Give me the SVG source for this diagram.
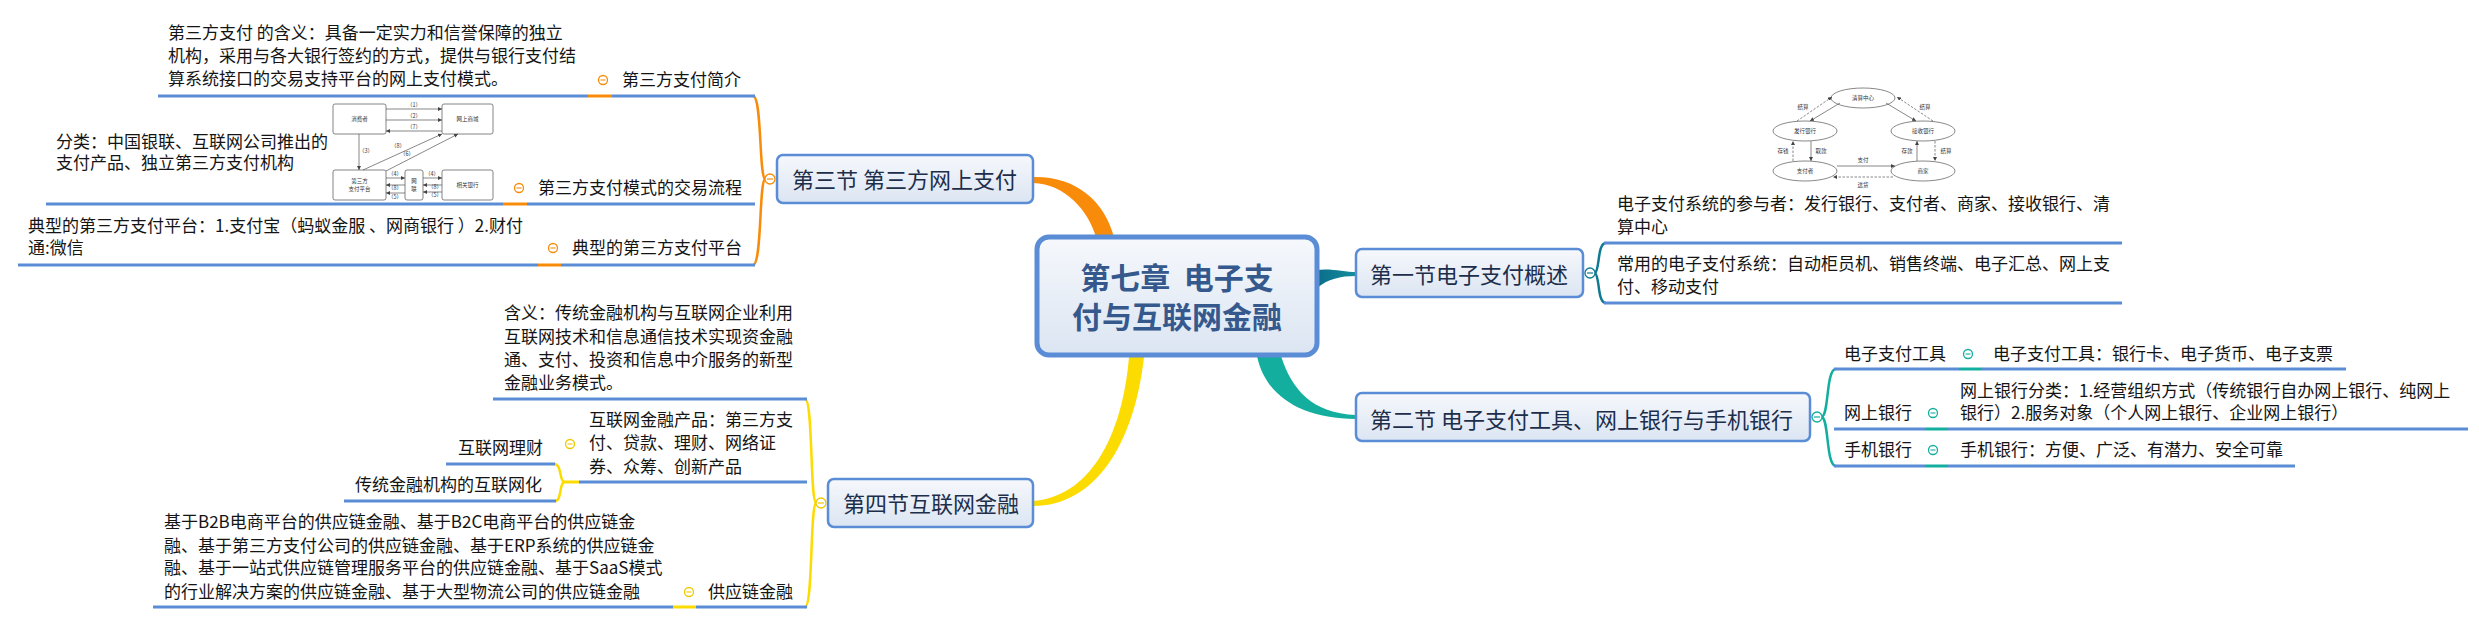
<svg xmlns="http://www.w3.org/2000/svg" width="2479" height="624" viewBox="0 0 2479 624">
<style>
.f{font-family:"Noto Sans CJK SC","Liberation Sans",sans-serif}
.t17{font-family:"Noto Sans CJK SC","Liberation Sans",sans-serif;font-size:17px;fill:#141414}
.ttl{font-family:"Noto Sans CJK SC","Liberation Sans",sans-serif;font-size:22px;fill:#1d2e4b}
.box{fill:url(#gb);stroke:#5b8dd6;stroke-width:2.5}
.ul{stroke:#5b8dd6;stroke-width:3;fill:none}
.br{fill:none;stroke-width:2.5}
.tiny{font-family:"Noto Sans CJK SC",sans-serif;font-size:5.5px;fill:#333;text-anchor:middle}
.ln{stroke:#555;stroke-width:0.7;fill:none}
.dl{stroke:#555;stroke-width:0.7;fill:none;stroke-dasharray:2.5 1.5}
.sh{fill:#fff;stroke:#666;stroke-width:0.8}
.tg{fill:#fff;stroke-width:1.3}
</style>
<defs>
<linearGradient id="gb" x1="0" y1="0" x2="0" y2="1"><stop offset="0" stop-color="#f6f8fc"/><stop offset="1" stop-color="#dbe5f2"/></linearGradient>
<linearGradient id="gt" x1="0" y1="0" x2="1" y2="0"><stop offset="0" stop-color="#0b6d8a"/><stop offset="1" stop-color="#148f9e"/></linearGradient>
<marker id="ah" markerWidth="4" markerHeight="4" refX="4" refY="2" orient="auto" markerUnits="userSpaceOnUse"><path d="M0,0 L4,2 L0,4 z" fill="#444"/></marker>
</defs>

<g id="connectors">
  <!-- main branches -->
  <path d="M1033,177 C1075,176 1104,200 1114,237 L1096,237 C1088,210 1065,184 1033,183 Z" fill="#f88c0a"/>
  <path d="M1129,357 C1122,440 1088,497 1033,501 L1033,506 C1095,506 1134,445 1144,357 Z" fill="#fcdb00"/>
  <path d="M1317,270 C1330,268 1345,272 1356,272 L1356,276 C1340,276 1328,279 1317,288 Z" fill="url(#gt)"/>
  <path d="M1257,356 C1265,395 1300,419 1356,419 L1356,415 C1312,413 1292,390 1281,356 Z" fill="#13ae9e"/>

  <!-- section 3 brackets and underlines -->
  <path class="br" stroke="#f88c0a" d="M753,96 C762,96 759,176 765,179 C759,182 762,265 753,265"/>
  <path class="ul" d="M158,96 H588 M612,96 H755"/>
  <path d="M588,96 H612" stroke="#f88c0a" stroke-width="3"/>
  <path class="ul" d="M46,204 H503 M527,204 H755"/>
  <path d="M503,204 H527" stroke="#f88c0a" stroke-width="3"/>
  <path class="ul" d="M18,265 H538 M561,265 H755"/>
  <path d="M538,265 H561" stroke="#f88c0a" stroke-width="3"/>

  <!-- section 4 -->
  <path class="br" stroke="#fcdb00" d="M805,399 C813,399 810,500 816,503 C810,506 813,607 805,607"/>
  <path class="br" stroke="#fcdb00" d="M554,464 C562,464 559,480 564,482 C559,484 562,501 555,501"/>
  <path class="ul" d="M493,399 H807"/>
  <path class="ul" d="M446,464 H555"/>
  <path class="ul" d="M344,501 H556"/>
  <path class="ul" d="M579,482 H807"/>
  <path d="M564,482 H579" stroke="#fcdb00" stroke-width="3"/>
  <path class="ul" d="M153,607 H673 M696,607 H807"/>
  <path d="M673,607 H696" stroke="#fcdb00" stroke-width="3"/>

  <!-- section 1 -->
  <path class="br" stroke="#0f7a92" d="M1606,243 C1597,243 1600,270 1595,273 C1600,276 1597,303 1606,303"/>
  <path class="ul" d="M1604,243 H2122 M1604,303 H2122"/>

  <!-- section 2 -->
  <path class="br" stroke="#13ae9e" d="M1836,369 C1826,369 1829,414 1822,417 C1829,420 1826,466 1836,466"/>
  <path class="ul" d="M1834,369 H1959 M1982,369 H2346"/>
  <path d="M1959,369 H1982" stroke="#13ae9e" stroke-width="3"/>
  <path class="ul" d="M1834,429 H1925 M1948,429 H2468"/>
  <path d="M1925,429 H1948" stroke="#13ae9e" stroke-width="3"/>
  <path class="ul" d="M1834,466 H1925 M1948,466 H2295"/>
  <path d="M1925,466 H1948" stroke="#13ae9e" stroke-width="3"/>
</g>

<g id="center">
  <rect x="1037" y="237" width="280" height="118" rx="12" fill="url(#gb)" stroke="#5b8dd6" stroke-width="5"/>
  <text class="f" x="1177" y="289" text-anchor="middle" font-size="30" font-weight="700" fill="#35598d" xml:space="preserve">第七章  电子支</text>
  <text class="f" x="1177" y="328" text-anchor="middle" font-size="30" font-weight="700" fill="#35598d">付与互联网金融</text>
</g>

<g id="sec1">
  <rect class="box" x="1356" y="249" width="227" height="48" rx="6"/>
  <text class="ttl" x="1370" y="283">第一节电子支付概述</text>
  <circle class="tg" cx="1590" cy="273" r="5" stroke="#0f7a92"/><path d="M1587,273 H1593" stroke="#0f7a92" stroke-width="1.2"/>
</g>
<g id="sec1-diagram">
  <ellipse class="ln" cx="1863" cy="98" rx="32" ry="10"/>
  <ellipse class="ln" cx="1805" cy="131" rx="32" ry="10"/>
  <ellipse class="ln" cx="1923" cy="131" rx="32" ry="10"/>
  <ellipse class="ln" cx="1805" cy="171" rx="32" ry="10"/>
  <ellipse class="ln" cx="1923" cy="171" rx="32" ry="10"/>
  <text class="tiny" x="1863" y="100">清算中心</text>
  <text class="tiny" x="1805" y="133">发行银行</text>
  <text class="tiny" x="1923" y="133">接收银行</text>
  <text class="tiny" x="1805" y="173">支付者</text>
  <text class="tiny" x="1923" y="173">商家</text>
  <path class="dl" d="M1797,121 L1832,97" marker-end="url(#ah)"/>
  <path class="ln" d="M1840,103 L1810,121" marker-end="url(#ah)"/>
  <path class="ln" d="M1886,103 L1916,121" marker-end="url(#ah)"/>
  <path class="dl" d="M1933,121 L1897,97" marker-end="url(#ah)"/>
  <path class="dl" d="M1793,161 V141" marker-end="url(#ah)"/>
  <path class="ln" d="M1811,141 V161" marker-end="url(#ah)"/>
  <path class="ln" d="M1917,161 V141" marker-end="url(#ah)"/>
  <path class="dl" d="M1935,141 V161" marker-end="url(#ah)"/>
  <path class="ln" d="M1837,166 H1895" marker-end="url(#ah)"/>
  <path class="dl" d="M1893,177 H1833" marker-end="url(#ah)"/>
  <text class="tiny" x="1803" y="109">结算</text>
  <text class="tiny" x="1925" y="109">结算</text>
  <text class="tiny" x="1783" y="153">存钱</text>
  <text class="tiny" x="1821" y="153">取款</text>
  <text class="tiny" x="1907" y="153">存款</text>
  <text class="tiny" x="1946" y="153">结算</text>
  <text class="tiny" x="1863" y="162">支付</text>
  <text class="tiny" x="1863" y="187">送货</text>
</g>
<g id="sec1-leaf1">
  <text class="t17" x="1617" y="210">电子支付系统的参与者：发行银行、支付者、商家、接收银行、清</text>
  <text class="t17" x="1617" y="233">算中心</text>
</g>
<g id="sec1-leaf2">
  <text class="t17" x="1617" y="270">常用的电子支付系统：自动柜员机、销售终端、电子汇总、网上支</text>
  <text class="t17" x="1617" y="293">付、移动支付</text>
</g>

<g id="sec2">
  <rect class="box" x="1356" y="393" width="454" height="48" rx="6"/>
  <text class="ttl" x="1370" y="428">第二节 电子支付工具、网上银行与手机银行</text>
  <circle class="tg" cx="1817" cy="417" r="5" stroke="#13ae9e"/><path d="M1814,417 H1820" stroke="#13ae9e" stroke-width="1.2"/>
</g>
<g id="sec2-tools">
  <text class="t17" x="1844" y="360">电子支付工具</text>
  <circle class="tg" cx="1968" cy="354" r="4.5" stroke="#13ae9e"/><path d="M1965.5,354 H1970.5" stroke="#13ae9e" stroke-width="1.1"/>
  <text class="t17" x="1993" y="360">电子支付工具：银行卡、电子货币、电子支票</text>
</g>
<g id="sec2-online">
  <text class="t17" x="1844" y="419">网上银行</text>
  <circle class="tg" cx="1933" cy="413" r="4.5" stroke="#13ae9e"/><path d="M1930.5,413 H1935.5" stroke="#13ae9e" stroke-width="1.1"/>
  <text class="t17" x="1960" y="397">网上银行分类：1.经营组织方式（传统银行自办网上银行、纯网上</text>
  <text class="t17" x="1960" y="419">银行）2.服务对象（个人网上银行、企业网上银行）</text>
</g>
<g id="sec2-mobile">
  <text class="t17" x="1844" y="456">手机银行</text>
  <circle class="tg" cx="1933" cy="450" r="4.5" stroke="#13ae9e"/><path d="M1930.5,450 H1935.5" stroke="#13ae9e" stroke-width="1.1"/>
  <text class="t17" x="1960" y="456">手机银行：方便、广泛、有潜力、安全可靠</text>
</g>

<g id="sec3">
  <rect class="box" x="777" y="155" width="256" height="48" rx="6"/>
  <text class="ttl" x="792" y="188">第三节 第三方网上支付</text>
  <circle class="tg" cx="770" cy="179" r="5" stroke="#f88c0a"/><path d="M767,179 H773" stroke="#f88c0a" stroke-width="1.2"/>
</g>
<g id="sec3-intro">
  <text class="t17" x="622" y="86">第三方支付简介</text>
  <circle class="tg" cx="603" cy="80" r="4.5" stroke="#f88c0a"/><path d="M600.5,80 H605.5" stroke="#f88c0a" stroke-width="1.1"/>
  <text class="t17" x="168" y="39">第三方支付 的含义：具备一定实力和信誉保障的独立</text>
  <text class="t17" x="168" y="62">机构，采用与各大银行签约的方式，提供与银行支付结</text>
  <text class="t17" x="168" y="85">算系统接口的交易支持平台的网上支付模式。</text>
</g>
<g id="sec3-flow">
  <text class="t17" x="538" y="194">第三方支付模式的交易流程</text>
  <circle class="tg" cx="519" cy="188" r="4.5" stroke="#f88c0a"/><path d="M516.5,188 H521.5" stroke="#f88c0a" stroke-width="1.1"/>
  <text class="t17" x="56" y="148">分类：中国银联、互联网公司推出的</text>
  <text class="t17" x="56" y="169">支付产品、独立第三方支付机构</text>
</g>
<g id="sec3-flow-diagram">
  <rect class="sh" x="333" y="104" width="53" height="30" rx="2"/>
  <rect class="sh" x="442" y="104" width="51" height="30" rx="2"/>
  <rect class="sh" x="333" y="170" width="53" height="30" rx="2"/>
  <rect class="sh" x="405" y="170" width="18" height="30" rx="2"/>
  <rect class="sh" x="442" y="170" width="51" height="30" rx="2"/>
  <text class="tiny" x="359.5" y="121">消费者</text>
  <text class="tiny" x="467.5" y="121">网上商城</text>
  <text class="tiny" x="359.5" y="183">第三方</text>
  <text class="tiny" x="359.5" y="191">支付平台</text>
  <text class="tiny" x="414" y="183">网</text>
  <text class="tiny" x="414" y="191">联</text>
  <text class="tiny" x="467.5" y="187">相关银行</text>
  <path class="ln" d="M386,109 H442" marker-end="url(#ah)"/>
  <path class="ln" d="M386,120 H442" marker-end="url(#ah)"/>
  <path class="ln" d="M442,131 H386" marker-end="url(#ah)"/>
  <path class="ln" d="M359,134 V170" marker-end="url(#ah)"/>
  <path class="ln" d="M363,170 L442,134" marker-end="url(#ah)"/>
  <path class="ln" d="M386,171 L458,134" marker-end="url(#ah)"/>
  <path class="ln" d="M386,178 H405" marker-end="url(#ah)"/>
  <path class="ln" d="M405,185 H386" marker-end="url(#ah)"/>
  <path class="ln" d="M405,193 H386" marker-end="url(#ah)"/>
  <path class="ln" d="M423,178 H442" marker-end="url(#ah)"/>
  <path class="ln" d="M442,185 H423" marker-end="url(#ah)"/>
  <path class="ln" d="M442,192 H423" marker-end="url(#ah)"/>
  <text class="tiny" x="414" y="107">（1）</text>
  <text class="tiny" x="414" y="118">（2）</text>
  <text class="tiny" x="414" y="129">（7）</text>
  <text class="tiny" x="366" y="153">（3）</text>
  <text class="tiny" x="398" y="148">（8）</text>
  <text class="tiny" x="407" y="156">（6）</text>
  <text class="tiny" x="395" y="176">（4）</text>
  <text class="tiny" x="395" y="190">（8）</text>
  <text class="tiny" x="395" y="199">（5）</text>
  <text class="tiny" x="432" y="176">（4）</text>
  <text class="tiny" x="435" y="189">（8）</text>
  <text class="tiny" x="435" y="197">（5）</text>
</g>
<g id="sec3-platform">
  <text class="t17" x="572" y="254">典型的第三方支付平台</text>
  <circle class="tg" cx="553" cy="248" r="4.5" stroke="#f88c0a"/><path d="M550.5,248 H555.5" stroke="#f88c0a" stroke-width="1.1"/>
  <text class="t17" x="28" y="232">典型的第三方支付平台：1.支付宝（蚂蚁金服 、网商银行 ）2.财付</text>
  <text class="t17" x="28" y="254">通:微信</text>
</g>

<g id="sec4">
  <rect class="box" x="828" y="479" width="205" height="48" rx="6"/>
  <text class="ttl" x="843" y="512">第四节互联网金融</text>
  <circle class="tg" cx="821" cy="503" r="5" stroke="#f0c800"/><path d="M818,503 H824" stroke="#f0c800" stroke-width="1.2"/>
</g>
<g id="sec4-meaning">
  <text class="t17" x="504" y="319">含义：传统金融机构与互联网企业利用</text>
  <text class="t17" x="504" y="343">互联网技术和信息通信技术实现资金融</text>
  <text class="t17" x="504" y="366">通、支付、投资和信息中介服务的新型</text>
  <text class="t17" x="504" y="389">金融业务模式。</text>
</g>
<g id="sec4-products">
  <text class="t17" x="589" y="426">互联网金融产品：第三方支</text>
  <text class="t17" x="589" y="449">付、贷款、理财、网络证</text>
  <text class="t17" x="589" y="473">券、众筹、创新产品</text>
  <circle class="tg" cx="570" cy="444" r="4.5" stroke="#f0c800"/><path d="M567.5,444 H572.5" stroke="#f0c800" stroke-width="1.1"/>
</g>
<g id="sec4-licai">
  <text class="t17" x="458" y="454">互联网理财</text>
</g>
<g id="sec4-trad">
  <text class="t17" x="355" y="491">传统金融机构的互联网化</text>
</g>
<g id="sec4-supply">
  <text class="t17" x="708" y="598">供应链金融</text>
  <circle class="tg" cx="689" cy="592" r="4.5" stroke="#f0c800"/><path d="M686.5,592 H691.5" stroke="#f0c800" stroke-width="1.1"/>
  <text class="t17" x="164" y="528">基于B2B电商平台的供应链金融、基于B2C电商平台的供应链金</text>
  <text class="t17" x="164" y="552">融、基于第三方支付公司的供应链金融、基于ERP系统的供应链金</text>
  <text class="t17" x="164" y="574">融、基于一站式供应链管理服务平台的供应链金融、基于SaaS模式</text>
  <text class="t17" x="164" y="598">的行业解决方案的供应链金融、基于大型物流公司的供应链金融</text>
</g>
</svg>
